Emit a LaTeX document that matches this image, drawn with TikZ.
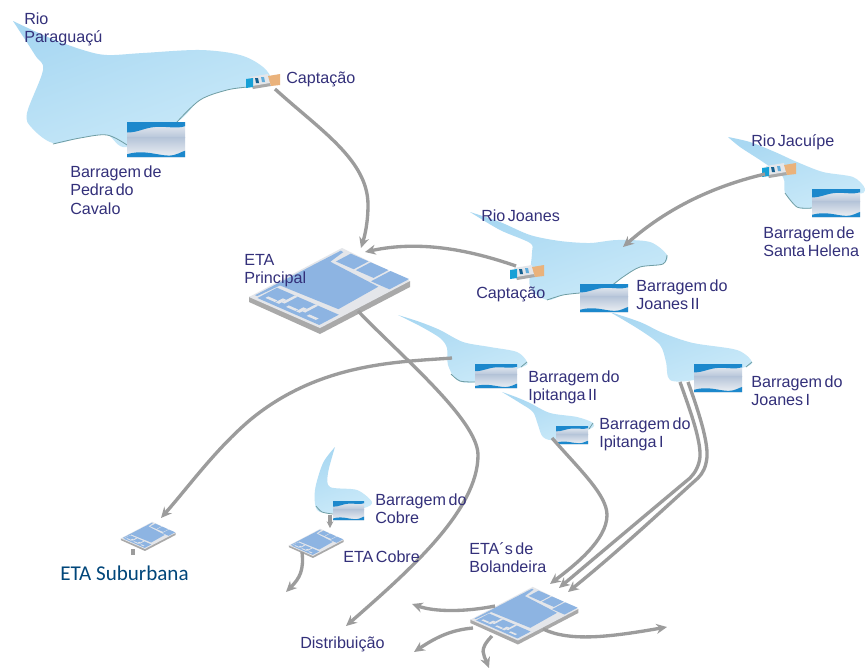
\documentclass[tikz,border=0pt]{standalone}
\usepackage{fontspec}
\setmainfont[WordSpace=0.55]{Liberation Sans}
\newfontfamily\carlitofont{Carlito}
\usetikzlibrary{arrows.meta}
\definecolor{txtblue}{HTML}{33307A}
\definecolor{pipe}{HTML}{9C9C9C}
\definecolor{lakeA}{HTML}{A9D8F2}
\definecolor{lakeB}{HTML}{CBEAF9}
\definecolor{shore}{HTML}{6F9DA3}
\definecolor{plantblue}{HTML}{8DB4E2}
\definecolor{plate}{HTML}{E4E6EA}
\definecolor{plateside}{HTML}{A9A9A9}
\definecolor{damblue}{HTML}{1C88CC}
\definecolor{dammid}{HTML}{B6C5D9}
\definecolor{damlight}{HTML}{EDF0F4}
\newcommand{\skewrect}[5]{\fill[#1] (#2,#3) -- (#4,#3) -- (#4,#5) -- (#2,#5) -- cycle;}
\tikzset{
  lbl/.style={font=\fontsize{12.1}{13.9}\selectfont,text=txtblue,inner sep=0pt,anchor=north west,align=left},
  pipeline/.style={draw=pipe,line width=2.5pt,-{Stealth[length=8pt,width=7.5pt]}},
  pipestub/.style={draw=pipe,line width=2.5pt},
  lake/.style={left color=lakeA,right color=lakeB,shading angle=20,draw=none},
  coast/.style={draw=shore,line width=.6pt},
  plant/.pic={
    \fill[plateside] (-80,10) -- (-80,15) -- (-9,47) -- (81,0) -- (81,-6) -- cycle;
    \fill[plate] (-80,10) -- (13,-39) -- (81,-6) -- (-9,41) -- cycle;
    \begin{scope}[shift={(-80,10)},x={(69.75pt,36.75pt)},y={(53.25pt,-23.25pt)}]
      \fill[plantblue] (.05,.02) -- (.965,.03) -- (.96,.07) -- (.79,.11) -- (.745,.845) -- (.30,.866) -- (.28,.07) -- (.05,.05) -- cycle;
      \skewrect{plantblue}{.82}{.15}{.98}{.40}
      \skewrect{plantblue}{.82}{.43}{.98}{.68}
      \skewrect{plantblue}{.77}{.71}{.98}{.97}
      \skewrect{plantblue}{.03}{.08}{.24}{.95}
      \skewrect{plate}{.10}{.33}{.24}{.37}
      \skewrect{plate}{.10}{.62}{.24}{.66}
      \skewrect{plate}{.07}{.14}{.10}{.27}
      \skewrect{plate}{.07}{.28}{.15}{.33}
      \skewrect{plate}{.07}{.43}{.10}{.56}
      \skewrect{plate}{.07}{.57}{.15}{.62}
      \skewrect{plate}{.07}{.72}{.10}{.85}
    \end{scope}
  }
}
\newcommand{\damicon}[4]{%
  \begin{scope}[shift={(#1,#2)},x=#3*.75pt,y=-#4*.75pt]
    \shade[top color=damlight,bottom color=dammid] (0,0) rectangle (1,.45);
    \shade[top color=dammid,bottom color=damlight] (0,.45) rectangle (1,1);
    \fill[damblue] (0,0) -- (1,0) -- (1,.12) .. controls (.85,.2) and (.7,.12) .. (.5,.14) .. controls (.3,.16) and (.2,.3) .. (0,.3) -- cycle;
    \fill[damblue] (0,.92) .. controls (.3,.78) and (.5,.95) .. (.72,.96) .. controls (.85,.96) and (.95,.84) .. (1,.82) -- (1,1) -- (0,1) -- cycle;
  \end{scope}}
\newcommand{\capicon}[2]{%
  \begin{scope}[shift={(#1,#2)}]
    \fill[plateside] (4,7) -- (22,3) -- (25,12) -- (7,15) -- cycle;
    \fill[plate] (4,3) -- (22,0) -- (24,9) -- (6,12) -- cycle;
    \fill[damblue!80!cyan] (0,5) -- (7,4) -- (7,13) -- (0,14) -- cycle;
    \fill[damblue!70!black] (9,4) -- (12,4) -- (13,9) -- (10,9) -- cycle;
    \fill[damblue!70!white] (15,3) -- (18,3) -- (19,8) -- (16,8) -- cycle;
    \fill[orange!45!brown!60!white] (22,2) -- (34,0) -- (34,11) -- (25,12) -- cycle;
  \end{scope}}
\begin{document}
\begin{tikzpicture}[x=.75pt,y=-.75pt]
\useasboundingbox (0,0) rectangle (865,669);
\fill[white] (0,0) rectangle (865,669);

% ---- lakes
\path[lake] plot[smooth,tension=.55] coordinates {(13,21) (50,38) (83,50) (107,55) (143,53) (200,50) (240,55) (263,67) (270,80) (248,87) (227,90) (200,100) (177,122) (127,147) (107,135) (80,138) (53,143) (32,128) (27,113) (43,70) (35,55) (13,21)} -- cycle;
\draw[coast] plot[smooth,tension=.55] coordinates {(248,87) (227,90) (200,100) (177,122)};
\draw[coast] plot[smooth,tension=.55] coordinates {(127,145) (107,135) (80,138) (53,144)};

\path[lake] plot[smooth,tension=.5] coordinates {(470,212) (500,222) (530,235) (560,241) (590,243) (617,240) (650,242) (667,255) (663,264) (640,267) (623,277) (610,287) (580,293) (563,295) (547,300) (530,287) (532,253) (530,243) (500,230) (470,212)} -- cycle;
\draw[coast] plot[smooth,tension=.5] coordinates {(667,255) (663,264) (640,267) (623,277) (610,287)};
\draw[coast] plot[smooth,tension=.5] coordinates {(580,293) (563,295) (547,300)};

\path[lake] plot[smooth,tension=.5] coordinates {(728,137) (750,142) (775,152) (797,162) (823,172) (853,177) (865,188) (863,193) (850,195) (812,208) (797,207) (785,193) (783,177) (763,162) (740,147) (728,137)} -- cycle;
\draw[coast] plot[smooth,tension=.5] coordinates {(812,208) (797,207) (785,193)};

\path[lake] plot[smooth,tension=.5] coordinates {(610,312) (640,322) (663,333) (693,343) (737,350) (752,362) (742,368) (694,380) (670,380) (666,362) (660,345) (640,330) (610,312)} -- cycle;
\draw[coast] plot[smooth,tension=.5] coordinates {(752,362) (746,367)};

\path[lake] plot[smooth,tension=.5] coordinates {(398,315) (420,322) (440,330) (463,342) (490,347) (517,352) (527,362) (522,367) (475,382) (457,380) (448,365) (447,348) (440,338) (420,326) (398,315)} -- cycle;
\draw[coast] plot[smooth,tension=.5] coordinates {(527,362) (521,367)};
\draw[coast] plot[smooth,tension=.5] coordinates {(475,382) (460,381) (451,374)};

\path[lake] plot[smooth,tension=.5] coordinates {(502,392) (516,397) (530,403) (550,413) (577,417) (593,423) (590,429) (556,440) (543,437) (538,425) (533,412) (520,403) (502,392)} -- cycle;
\draw[coast] plot[smooth,tension=.5] coordinates {(593,423) (589,429)};

\path[lake] plot[smooth,tension=.5] coordinates {(335,447) (328,473) (330,487) (357,490) (372,502) (364,508) (333,513) (317,510) (315,490) (323,463) (335,447)} -- cycle;
\draw[coast] plot[smooth,tension=.5] coordinates {(333,514) (322,512) (316,506)};

% ---- dams
\damicon{127}{122}{58}{35}
\damicon{812}{189}{48}{28}
\damicon{580}{284}{48}{28}
\damicon{694}{364}{48}{28}
\damicon{475}{364}{42}{24}
\damicon{556}{426}{32}{18}
\damicon{333}{501}{31}{19}

% ---- intakes
\capicon{246}{74}
\capicon{762}{163}
\capicon{510}{265}

% ---- treatment plants
\pic[scale=1] at (329,287) {plant};
\pic[scale=.67] at (524,613) {plant};
\pic[scale=.34] at (148,535) {plant};
\pic[scale=.34] at (316,542) {plant};

% ---- connection points
\coordinate (capP) at (275,89);
\coordinate (etaPin) at (361,248);
\coordinate (etaPin2) at (365,252);
\coordinate (etaPout) at (358,311);
\coordinate (capJo) at (516,266);
\coordinate (capJa) at (765,174);
\coordinate (lakeJo) at (623,247);
\coordinate (distr) at (346,626);
\coordinate (ipII) at (452,358);
\coordinate (etaSin) at (161,518);
\coordinate (etaSout) at (133,549);
\coordinate (etaSend) at (133,555);
\coordinate (ipI) at (552,438);
\coordinate (joA) at (680,382);
\coordinate (joB) at (688,382);
\coordinate (bolA) at (550,584);
\coordinate (bolB) at (559,588);
\coordinate (bolC) at (568,592);
\coordinate (cobreD) at (330,515);
\coordinate (cobreE) at (330,528);
\coordinate (cobreO) at (302,552);
\coordinate (cobreF) at (286,592);
\coordinate (bo1) at (495,606);
\coordinate (bo1e) at (412,604);
\coordinate (bo2) at (473,628);
\coordinate (bo2e) at (414,652);
\coordinate (bo3) at (492,636);
\coordinate (bo3e) at (489,668);
\coordinate (bo4) at (543,629);
\coordinate (bo4e) at (667,627);

% ---- connectors
\draw[pipeline] (capP) .. controls (320,130) and (368,160) .. (368,205) .. controls (368,222) and (365,235) .. (etaPin);
\draw[pipeline] (capJo) .. controls (470,250) and (420,240) .. (etaPin2);
\draw[pipeline] (capJa) .. controls (710,187) and (665,210) .. (lakeJo);
\draw[pipeline] (etaPout) .. controls (400,355) and (478,420) .. (478,455) .. controls (478,510) and (410,570) .. (distr);
\draw[pipeline] (ipII) .. controls (400,362) and (320,362) .. (250,420) .. controls (215,450) and (190,485) .. (etaSin);
\draw[pipestub] (etaSout) -- (etaSend);
\draw[pipeline] (ipI) .. controls (580,470) and (607,495) .. (607,515) .. controls (607,540) and (575,565) .. (bolA);
\draw[pipeline] (joA) .. controls (690,410) and (701,440) .. (700,457) .. controls (699,466) and (695,473) .. (690,478) .. controls (660,503) and (610,545) .. (bolB);
\draw[pipeline] (joB) .. controls (698,410) and (708,440) .. (707,457) .. controls (706,467) and (703,473) .. (698,478) .. controls (668,505) and (620,550) .. (bolC);
\draw[pipeline,-{Stealth[length=5pt,width=5pt]}] (cobreD) -- (cobreE);
\draw[pipeline] (cobreO) .. controls (304,570) and (300,578) .. (cobreF);
\draw[pipeline] (bo1) .. controls (465,612) and (435,612) .. (bo1e);
\draw[pipeline] (bo2) .. controls (450,630) and (435,638) .. (bo2e);
\draw[pipeline] (bo3) .. controls (478,650) and (484,655) .. (bo3e);
\draw[pipeline] (bo4) .. controls (570,642) and (610,637) .. (bo4e);

% ---- labels
\node[lbl] (tRioP) at (24,11) {\strut Rio\\Paraguaçú};
\node[lbl] (tCapP) at (286,70) {\strut Captação};
\node[lbl] (tPedra) at (70,164) {\strut Barragem de\\Pedra do\\Cavalo};
\node[lbl] (tEtaP) at (244,252) {\strut ETA\\Principal};
\node[lbl] (tRioJa) at (751,133) {\strut Rio Jacuípe};
\node[lbl] (tSanta) at (763,225) {\strut Barragem de\\Santa Helena};
\node[lbl] (tRioJo) at (481,208) {\strut Rio Joanes};
\node[lbl] (tCapJo) at (476,285) {\strut Captação};
\node[lbl] (tJoII) at (636,278) {\strut Barragem do\\Joanes II};
\node[lbl] (tIpII) at (528,369) {\strut Barragem do\\Ipitanga II};
\node[lbl] (tIpI) at (599,416) {\strut Barragem do\\Ipitanga I};
\node[lbl] (tJoI) at (751,374) {\strut Barragem do\\Joanes I};
\node[lbl] (tCobre) at (375,492) {\strut Barragem do\\Cobre};
\node[lbl] (tEtaC) at (343,549) {\strut ETA Cobre};
\node[lbl] (tBol) at (469,541) {\strut ETA´s de\\Bolandeira};
\node[lbl] (tDis) at (300,635) {\strut Distribuição};
\node[inner sep=0pt,anchor=north west,text=black!55!blue!45!teal,font=\carlitofont\fontsize{15.8}{18}\selectfont] (tEtaS) at (60,563) {\strut ETA Suburbana};
\end{tikzpicture}
\end{document}
